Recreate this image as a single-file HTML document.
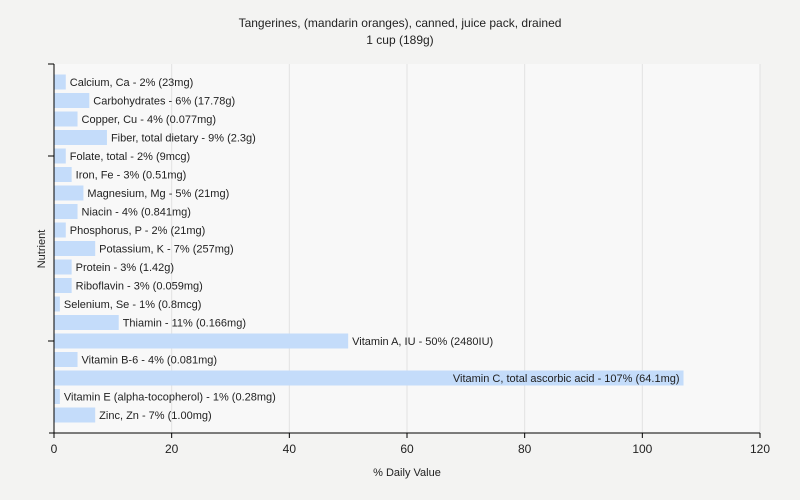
<!DOCTYPE html>
<html><head><meta charset="utf-8"><style>
body{margin:0;background:#f3f3f2;font-family:"Liberation Sans",sans-serif;}
svg{display:block}
</style></head><body>
<svg id="c" width="800" height="500" xmlns="http://www.w3.org/2000/svg">
<text x="400" y="27" text-anchor="middle" font-size="12" fill="#222">Tangerines, (mandarin oranges), canned, juice pack, drained</text>
<text x="400" y="44" text-anchor="middle" font-size="12" fill="#222">1 cup (189g)</text>
<rect x="54" y="64" width="706" height="369" fill="#f8f8f8"/>
<g id="grid"></g><g id="bars"></g><g id="axes"></g>
<text x="407" y="476" text-anchor="middle" font-size="11" fill="#222">% Daily Value</text>
<text transform="translate(45,249) rotate(-90)" text-anchor="middle" font-size="11" fill="#222">Nutrient</text>
</svg>
<script>
const categories=["Calcium, Ca","Carbohydrates","Copper, Cu","Fiber, total dietary","Folate, total","Iron, Fe","Magnesium, Mg","Niacin","Phosphorus, P","Potassium, K","Protein","Riboflavin","Selenium, Se","Thiamin","Vitamin A, IU","Vitamin B-6","Vitamin C, total ascorbic acid","Vitamin E (alpha-tocopherol)","Zinc, Zn"];
const values=[2,6,4,9,2,3,5,4,2,7,3,3,1,11,50,4,107,1,7];
const amounts=["23mg","17.78g","0.077mg","2.3g","9mcg","0.51mg","21mg","0.841mg","21mg","257mg","1.42g","0.059mg","0.8mcg","0.166mg","2480IU","0.081mg","64.1mg","0.28mg","1.00mg"];
const xTicks=[0,20,40,60,80,100,120];
const NS="http://www.w3.org/2000/svg";
const X0=54,X1=760,Y0=64,Y1=433,XMAX=120;
const x=v=>X0+(X1-X0)*v/XMAX;
const step=18.5;
const yc=i=>82+step*i;
function mk(t,a,p){const e=document.createElementNS(NS,t);for(const k in a)e.setAttribute(k,a[k]);p.appendChild(e);return e;}
const grid=document.getElementById('grid'),bars=document.getElementById('bars'),axes=document.getElementById('axes');
xTicks.forEach(t=>{
 if(t>0){const g=mk('line',{x1:x(t),x2:x(t),y1:Y0,y2:Y1,stroke:'#e2e2e2'},grid);
 
 }
 const tk=mk('line',{x1:x(t),x2:x(t),y1:Y1,y2:Y1+5,stroke:'#000'},axes);
 
 
 const l=mk('text',{x:x(t),y:Y1+20,'text-anchor':'middle','font-size':12,fill:'#222'},axes);l.textContent=t;
 
 
});
categories.forEach((c,i)=>{
 const w=x(values[i])-X0,y=yc(i);
 const r=mk('rect',{x:X0,y:y-7.5,width:w,height:15,fill:'#c4dcfa'},bars);
 
 
 const lbl=c+' - '+values[i]+'% ('+amounts[i]+')';
 const inside=w>500;
 const t=mk('text',{x:inside?X0+w-4:X0+w+4,y:y+4,'text-anchor':inside?'end':'start','font-size':11,fill:'#222'},bars);
 t.textContent=lbl;
 
 
});
const ya=mk('line',{x1:X0,x2:X0,y1:Y0,y2:Y1+0.5,stroke:'#000'},axes);


const xa=mk('line',{x1:X0-5,x2:X1,y1:Y1,y2:Y1,stroke:'#000'},axes);


[Y0,156,341].forEach((yy,k)=>{
 const t=mk('line',{x1:X0-6,x2:X0,y1:yy,y2:yy,stroke:'#000'},axes);
 
 
});
</script>
</body></html>
